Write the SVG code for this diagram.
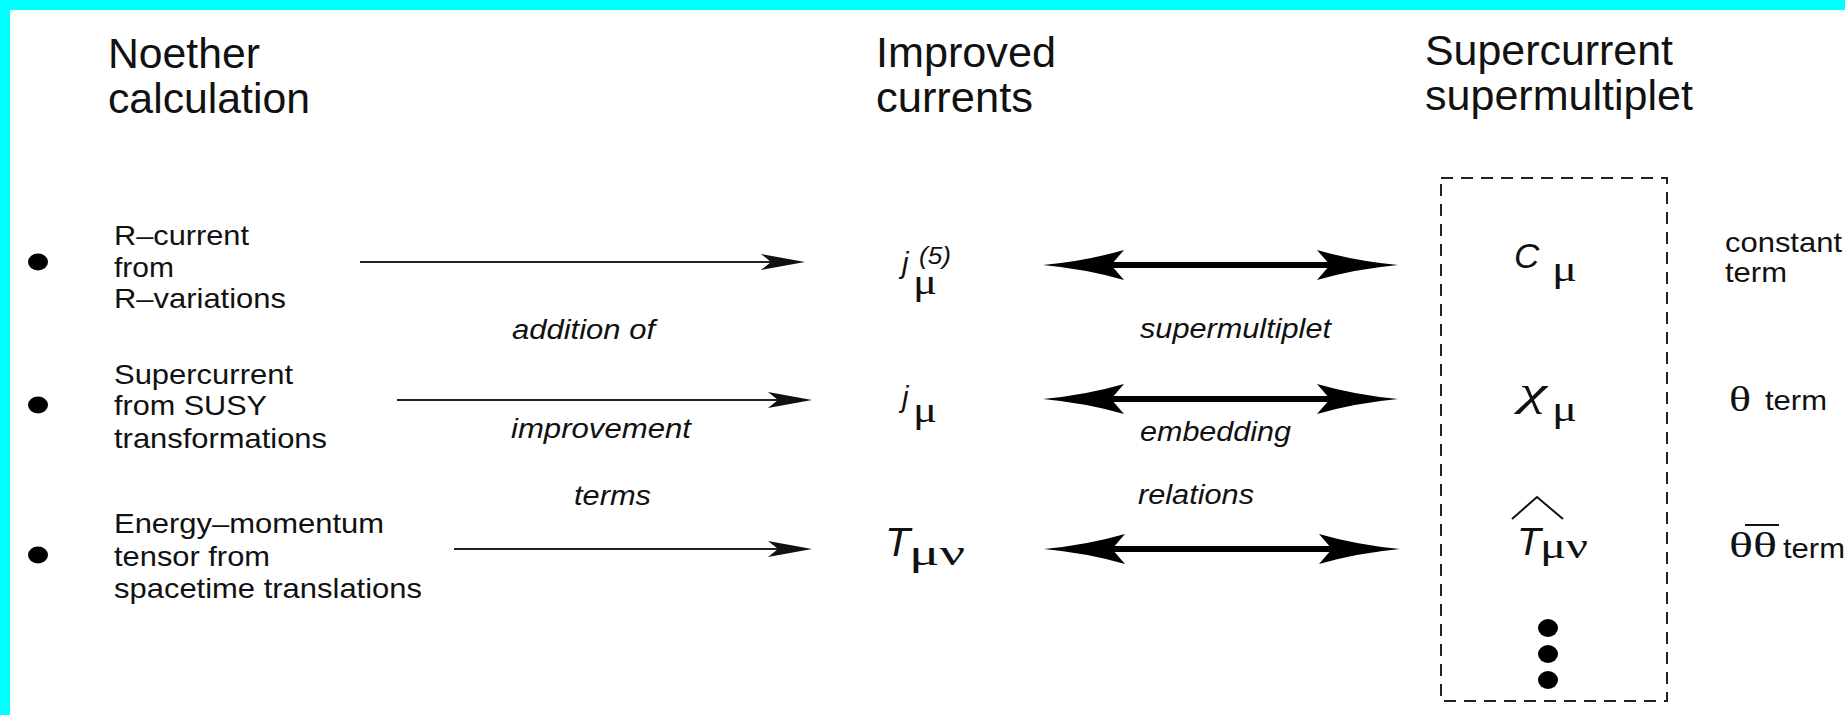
<svg xmlns="http://www.w3.org/2000/svg" width="1845" height="715" viewBox="0 0 1845 715">
<defs>
<style>
.hd{font-family:"Liberation Sans",Arial,sans-serif;font-size:43px;fill:#111;}
.t{font-family:"Liberation Sans",Arial,sans-serif;font-size:28px;fill:#111;}
.it{font-family:"Liberation Sans",Arial,sans-serif;font-style:italic;font-size:27px;fill:#111;}
.mi{font-family:"Liberation Sans",Arial,sans-serif;font-style:italic;fill:#111;}
.gr{font-family:"Liberation Serif","Times New Roman",serif;fill:#111;}
.thin{stroke:#222;stroke-width:2;fill:none;}
.thick{stroke:#000;stroke-width:6;fill:none;}
.box{fill:none;stroke:#222;stroke-width:2;stroke-dasharray:12 8;}
.dot{fill:#000;}
</style>
<marker id="ah" markerUnits="userSpaceOnUse" viewBox="-12 -10 48 20" refX="0" refY="0" markerWidth="48" markerHeight="20" orient="auto"><path d="M34,0 L-10,-8 L0,0 L-10,8 Z" fill="#111"/></marker>
<marker id="bh" markerUnits="userSpaceOnUse" viewBox="-15 -17 85 34" refX="0" refY="0" markerWidth="85" markerHeight="34" orient="auto-start-reverse"><path d="M68,0 Q25,-4 -13,-15 L0,0 L-13,15 Q25,4 68,0 Z" fill="#000"/></marker>
</defs>
<rect x="0" y="0" width="1845" height="715" fill="#fff"/>
<rect x="0" y="0" width="1845" height="10" fill="#00ffff"/>
<rect x="0" y="0" width="10" height="715" fill="#00ffff"/>

<g id="header-noether">
<text class="hd" x="108" y="68" textLength="152" lengthAdjust="spacingAndGlyphs">Noether</text>
<text class="hd" x="108" y="113" textLength="202" lengthAdjust="spacingAndGlyphs">calculation</text>
</g>
<g id="header-improved">
<text class="hd" x="876" y="67" textLength="180" lengthAdjust="spacingAndGlyphs">Improved</text>
<text class="hd" x="876" y="112" textLength="157" lengthAdjust="spacingAndGlyphs">currents</text>
</g>
<g id="header-supercurrent">
<text class="hd" x="1425" y="65" textLength="248" lengthAdjust="spacingAndGlyphs">Supercurrent</text>
<text class="hd" x="1425" y="110" textLength="268" lengthAdjust="spacingAndGlyphs">supermultiplet</text>
</g>

<g id="item-r-current">
<ellipse class="dot" cx="38" cy="262" rx="10" ry="8.5"/>
<text class="t" x="114" y="245" textLength="135" lengthAdjust="spacingAndGlyphs">R–current</text>
<text class="t" x="114" y="277" textLength="60" lengthAdjust="spacingAndGlyphs">from</text>
<text class="t" x="114" y="308" textLength="172" lengthAdjust="spacingAndGlyphs">R–variations</text>
</g>
<g id="item-supercurrent">
<ellipse class="dot" cx="38" cy="405" rx="10" ry="8.5"/>
<text class="t" x="114" y="384" textLength="179" lengthAdjust="spacingAndGlyphs">Supercurrent</text>
<text class="t" x="114" y="415" textLength="153" lengthAdjust="spacingAndGlyphs">from SUSY</text>
<text class="t" x="114" y="448" textLength="213" lengthAdjust="spacingAndGlyphs">transformations</text>
</g>
<g id="item-energy-momentum">
<ellipse class="dot" cx="38" cy="555" rx="10" ry="8.5"/>
<text class="t" x="114" y="533" textLength="270" lengthAdjust="spacingAndGlyphs">Energy–momentum</text>
<text class="t" x="114" y="566" textLength="156" lengthAdjust="spacingAndGlyphs">tensor from</text>
<text class="t" x="114" y="598" textLength="308" lengthAdjust="spacingAndGlyphs">spacetime translations</text>
</g>

<g id="label-improvement">
<text class="it" x="512" y="339" textLength="143" lengthAdjust="spacingAndGlyphs">addition of</text>
<text class="it" x="511" y="438" textLength="180" lengthAdjust="spacingAndGlyphs">improvement</text>
<text class="it" x="574" y="505" textLength="77" lengthAdjust="spacingAndGlyphs">terms</text>
</g>
<g id="label-embedding">
<text class="it" x="1140" y="338" textLength="191" lengthAdjust="spacingAndGlyphs">supermultiplet</text>
<text class="it" x="1140" y="441" textLength="151" lengthAdjust="spacingAndGlyphs">embedding</text>
<text class="it" x="1138" y="504" textLength="116" lengthAdjust="spacingAndGlyphs">relations</text>
</g>

<g id="node-j5">
<text class="mi" font-size="29" x="902" y="273">j</text>
<text class="mi" font-size="23" x="919" y="264" textLength="32" lengthAdjust="spacingAndGlyphs">(5)</text>
<text class="gr" font-size="36" x="913" y="294" textLength="24" lengthAdjust="spacingAndGlyphs">μ</text>
</g>
<g id="node-j">
<text class="mi" font-size="29" x="902" y="407">j</text>
<text class="gr" font-size="36" x="913" y="422" textLength="24" lengthAdjust="spacingAndGlyphs">μ</text>
</g>
<g id="node-T">
<text class="mi" font-size="41" x="885" y="556">T</text>
<text class="gr" font-size="36" x="909" y="565" textLength="56" lengthAdjust="spacingAndGlyphs">μν</text>
</g>

<g id="supermultiplet-box">
<rect class="box" x="1441" y="178" width="226" height="523"/>
</g>
<g id="node-C">
<text class="mi" font-size="35" x="1514" y="268">C</text>
<text class="gr" font-size="36" x="1552" y="281" textLength="25" lengthAdjust="spacingAndGlyphs">μ</text>
</g>
<g id="node-chi">
<text class="gr" font-size="40" font-style="italic" x="1519" y="405" textLength="28" lengthAdjust="spacingAndGlyphs">χ</text>
<text class="gr" font-size="36" x="1552" y="421" textLength="25" lengthAdjust="spacingAndGlyphs">μ</text>
</g>
<g id="node-That">
<polyline points="1512,519 1537,497 1563,519" fill="none" stroke="#111" stroke-width="2"/>
<text class="mi" font-size="39" x="1517" y="555">T</text>
<text class="gr" font-size="36" x="1540" y="558" textLength="48" lengthAdjust="spacingAndGlyphs">μν</text>
</g>
<g id="node-dots">
<ellipse class="dot" cx="1548" cy="628" rx="10" ry="9"/>
<ellipse class="dot" cx="1548" cy="654" rx="10" ry="9"/>
<ellipse class="dot" cx="1548" cy="680" rx="10" ry="9"/>
</g>

<g id="term-constant">
<text class="t" x="1725" y="252" textLength="117" lengthAdjust="spacingAndGlyphs">constant</text>
<text class="t" x="1725" y="282" textLength="62" lengthAdjust="spacingAndGlyphs">term</text>
</g>
<g id="term-theta">
<text class="gr" font-size="36" x="1729" y="411" textLength="22" lengthAdjust="spacingAndGlyphs">θ</text>
<text class="t" x="1765" y="410" textLength="62" lengthAdjust="spacingAndGlyphs">term</text>
</g>
<g id="term-thetatheta">
<text class="gr" font-size="36" x="1729" y="557" textLength="48" lengthAdjust="spacingAndGlyphs">θθ</text>
<line x1="1745" y1="525" x2="1779" y2="525" stroke="#111" stroke-width="2"/>
<text class="t" x="1783" y="558" textLength="62" lengthAdjust="spacingAndGlyphs">term</text>
</g>

<g id="connectors">
<line class="thin" x1="360" y1="262" x2="771" y2="262" marker-end="url(#ah)"/>
<line class="thin" x1="397" y1="400" x2="778" y2="400" marker-end="url(#ah)"/>
<line class="thin" x1="454" y1="549" x2="778" y2="549" marker-end="url(#ah)"/>
<line class="thick" x1="1111" y1="265" x2="1330" y2="265" marker-start="url(#bh)" marker-end="url(#bh)"/>
<line class="thick" x1="1111" y1="399" x2="1330" y2="399" marker-start="url(#bh)" marker-end="url(#bh)"/>
<line class="thick" x1="1112" y1="549" x2="1332" y2="549" marker-start="url(#bh)" marker-end="url(#bh)"/>
</g>
</svg>
